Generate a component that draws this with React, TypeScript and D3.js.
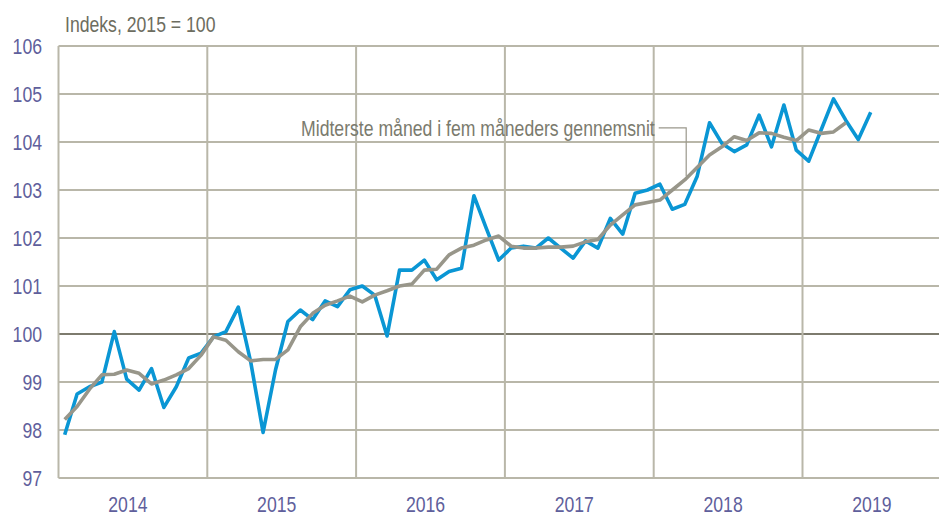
import React from "react";
import * as d3 from "d3";

const years = ["2014", "2015", "2016", "2017", "2018", "2019"];
const yTicks = [97, 98, 99, 100, 101, 102, 103, 104, 105, 106];

// Monthly index, Jan 2014 – Jun 2019
const indexValues = [
  97.9, 98.75, 98.9, 99.0, 100.05, 99.06, 98.83, 99.28, 98.47, 98.9, 99.5, 99.6,
  99.94, 100.05, 100.56, 99.42, 97.95, 99.25, 100.26, 100.5, 100.3, 100.69, 100.57, 100.92,
  101.0, 100.81, 99.96, 101.33, 101.33, 101.54, 101.13, 101.3, 101.37, 102.88, 102.2, 101.54,
  101.79, 101.83, 101.79, 102.0, 101.79, 101.58, 101.94, 101.79, 102.41, 102.08, 102.93, 103.0,
  103.12, 102.6, 102.7, 103.28, 104.4, 103.97, 103.8, 103.94, 104.56, 103.9, 104.77, 103.83,
  103.6, 104.25, 104.9, 104.45, 104.05, 104.62,
];

// Five-month centred moving average, Jan 2014 – Apr 2019
const movingAverage = [
  98.22, 98.49, 98.85, 99.15, 99.16, 99.25, 99.18, 98.96, 99.04, 99.15, 99.28, 99.56,
  99.94, 99.87, 99.63, 99.44, 99.47, 99.47, 99.67, 100.15, 100.43, 100.6, 100.69, 100.79,
  100.67, 100.81, 100.9, 101.0, 101.04, 101.33, 101.35, 101.65, 101.79, 101.85, 101.96, 102.04,
  101.83, 101.79, 101.79, 101.81, 101.81, 101.83, 101.92, 101.97, 102.27, 102.48, 102.69, 102.74,
  102.79, 103.0, 103.21, 103.47, 103.73, 103.9, 104.11, 104.03, 104.19, 104.18, 104.1, 104.03,
  104.25, 104.18, 104.21, 104.4,
];

const titleText = "Indeks, 2015 = 100";
const annotationText = "Midterste måned i fem måneders gennemsnit";
const annotationIndex = 50;

const W = 939;
const H = 516;
const FONT = "'Liberation Sans', Arial, sans-serif";
const NARROW = 0.82;

function NText(props: {
  x: number;
  y: number;
  anchor?: "start" | "middle" | "end";
  size: number;
  fill: string;
  dy?: string;
  children: React.ReactNode;
}) {
  return (
    <text
      transform={`translate(${props.x},${props.y}) scale(${NARROW},1)`}
      textAnchor={props.anchor || "start"}
      fontSize={props.size}
      fill={props.fill}
      dy={props.dy}
    >
      {props.children}
    </text>
  );
}

export default function App() {
  const left = 58.5;
  const right = 939;
  const top = 46;
  const bottom = 478;
  const monthW = 12.4;

  const x = d3.scaleLinear().domain([0, 72]).range([left, left + monthW * 72]);
  const y = d3.scaleLinear().domain([97, 106]).range([bottom, top]);

  const line = d3
    .line<number>()
    .x((_, i) => x(i + 0.5))
    .y((d) => y(d));

  const gridColor = "#b9b7a9";
  const ax = x(annotationIndex + 0.5);
  const ay = y(movingAverage[annotationIndex]);

  return (
    <svg
      width={W}
      height={H}
      style={{ position: "absolute", left: 0, top: 0, background: "#fff" }}
      fontFamily={FONT}
    >
      <defs>
        <clipPath id="plot">
          <rect x={left - 2} y={top - 2} width={right - left + 4} height={bottom - top + 4} />
        </clipPath>
      </defs>
      <g clipPath="url(#plot)">
        {yTicks.map((t) => (
          <line
            key={t}
            x1={left}
            x2={right}
            y1={y(t)}
            y2={y(t)}
            stroke={t === 100 ? "#7d7b6e" : gridColor}
            strokeWidth={2}
          />
        ))}
        {years.map((yr, i) => (
          <line
            key={yr}
            x1={x(i * 12)}
            x2={x(i * 12)}
            y1={top}
            y2={bottom}
            stroke={gridColor}
            strokeWidth={2}
          />
        ))}
        <path d={line(indexValues) || ""} fill="none" stroke="#0a96d4" strokeWidth={3.6} strokeLinejoin="round" />
        <path d={line(movingAverage) || ""} fill="none" stroke="#98968a" strokeWidth={3.6} strokeLinejoin="round" />
      </g>
      {yTicks.map((t) => (
        <NText key={t} x={42} y={y(t)} dy="0.36em" anchor="end" size={21.5} fill="#5f5f9c">
          {t}
        </NText>
      ))}
      {years.map((yr, i) => (
        <NText key={yr} x={x(i * 12 + 6) - 5} y={512} anchor="middle" size={21.5} fill="#5f5f9c">
          {yr}
        </NText>
      ))}
      <NText x={65} y={32} size={21.5} fill="#6d6d60">
        {titleText}
      </NText>
      <NText x={ax - 30} y={ay - 52} dy="0.36em" anchor="end" size={21.5} fill="#7b7b6e">
        {annotationText}
      </NText>
      <polyline
        points={`${ax - 26},${ay - 52} ${ax + 1.5},${ay - 52} ${ax + 1.5},${ay - 4}`}
        fill="none"
        stroke="#9a988c"
        strokeWidth={1.2}
      />
    </svg>
  );
}
